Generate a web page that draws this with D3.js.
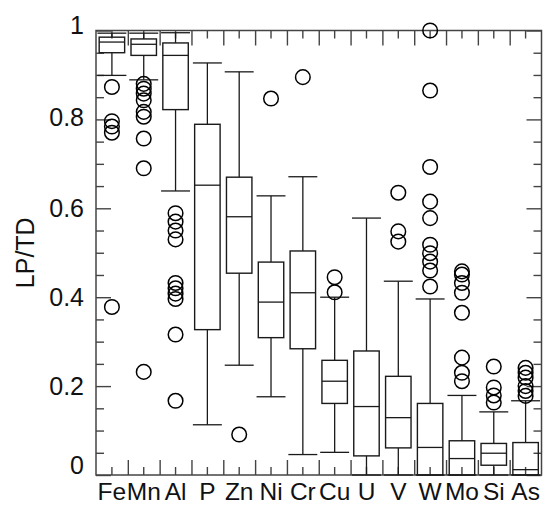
<!DOCTYPE html>
<html>
<head>
<meta charset="utf-8">
<script src="https://cdn.jsdelivr.net/npm/d3@7"></script>
<style>
  body { margin: 0; background: #fff; }
  svg text { font-family: "Liberation Sans", Arial, Helvetica, sans-serif; fill: #111; }
</style>
</head>
<body>
<script>
const width = 543;
const height = 505;

// box plot stats (LP/TD ratio)
const categories = ["Fe", "Mn", "Al", "P", "Zn", "Ni", "Cr", "Cu", "U", "V", "W", "Mo", "Si", "As"];
const whiskerLow  = [0.899, 0.889, 0.639, 0.113, 0.247, 0.176, 0.046, 0.051, 0.0, 0.0, 0.0, 0.0, 0.0, 0.0];
const q1          = [0.950, 0.944, 0.822, 0.327, 0.454, 0.309, 0.284, 0.161, 0.043, 0.061, 0.0, 0.0, 0.022, 0.0];
const median      = [0.974, 0.969, 0.944, 0.652, 0.581, 0.389, 0.410, 0.211, 0.154, 0.129, 0.062, 0.037, 0.049, 0.012];
const q3          = [0.985, 0.981, 0.972, 0.789, 0.670, 0.479, 0.504, 0.258, 0.279, 0.222, 0.161, 0.077, 0.071, 0.073];
const whiskerHigh = [0.994, 0.994, 0.995, 0.927, 0.907, 0.628, 0.671, 0.400, 0.578, 0.436, 0.396, 0.179, 0.142, 0.167];
const outliers = [
  [0.873, 0.796, 0.784, 0.770, 0.378],
  [0.880, 0.869, 0.858, 0.843, 0.817, 0.806, 0.757, 0.690, 0.232],
  [0.589, 0.570, 0.550, 0.530, 0.432, 0.420, 0.408, 0.396, 0.316, 0.167],
  [],
  [0.091],
  [0.847],
  [0.895],
  [0.445, 0.411],
  [],
  [0.635, 0.548, 0.525],
  [1.0, 0.865, 0.693, 0.615, 0.578, 0.518, 0.499, 0.480, 0.460, 0.424],
  [0.458, 0.451, 0.432, 0.410, 0.365, 0.264, 0.230, 0.211],
  [0.244, 0.197, 0.179, 0.163],
  [0.241, 0.230, 0.219, 0.200, 0.189, 0.178]
];
const yTicks = [0, 0.2, 0.4, 0.6, 0.8, 1];
const yTickLabels = ["0", "0.2", "0.4", "0.6", "0.8", "1"];

const plotLeft = 96, plotRight = 541.5, plotTop = 30.5, plotBottom = 475;

const svg = d3.select("body").append("svg")
  .attr("width", width)
  .attr("height", height);

const x = d3.scaleBand().domain(categories).range([plotLeft, plotRight]).padding(0);
const xEdge = d3.scaleLinear().domain([0, categories.length]).range([plotLeft, plotRight]);
const y = d3.scaleLinear().domain([0, 1]).range([plotBottom, plotTop]);

const axisColor = "#444";
const minorTicks = d3.range(0, 1.0001, 0.05).filter(v => Math.abs(v * 5 - Math.round(v * 5)) > 1e-6);

function styleAxis(g) {
  g.select(".domain").remove();
  g.selectAll(".tick line").attr("stroke", axisColor).attr("stroke-width", 1.4);
}

// left axis: labelled major ticks + minor ticks, all pointing inward
svg.append("g")
  .attr("transform", `translate(${plotLeft},0)`)
  .call(d3.axisLeft(y).tickValues(yTicks).tickSizeInner(-15).tickSizeOuter(0).tickPadding(12)
    .tickFormat((d, i) => yTickLabels[i]))
  .call(styleAxis)
  .call(g => g.selectAll("text")
    .attr("font-size", 25)
    .attr("dy", d => d === 0 ? "-0.05em" : d === 1 ? "0.12em" : d === 0.8 ? "0.24em" : "0.32em"));

svg.append("g")
  .attr("transform", `translate(${plotLeft},0)`)
  .call(d3.axisLeft(y).tickValues(minorTicks).tickSizeInner(-8).tickSizeOuter(0).tickFormat(""))
  .call(styleAxis);

// right axis mirror
svg.append("g")
  .attr("transform", `translate(${plotRight},0)`)
  .call(d3.axisRight(y).tickValues(yTicks).tickSizeInner(-15).tickSizeOuter(0).tickFormat(""))
  .call(styleAxis);
svg.append("g")
  .attr("transform", `translate(${plotRight},0)`)
  .call(d3.axisRight(y).tickValues(minorTicks).tickSizeInner(-8).tickSizeOuter(0).tickFormat(""))
  .call(styleAxis);

// bottom axis: short ticks at category centres with labels, long ticks at boundaries
svg.append("g")
  .attr("transform", `translate(0,${plotBottom})`)
  .call(d3.axisBottom(x).tickSizeInner(-8).tickSizeOuter(0))
  .call(styleAxis)
  .call(g => g.selectAll("text").attr("font-size", 24.5).attr("y", 25).attr("dy", 0));
svg.append("g")
  .attr("transform", `translate(0,${plotBottom})`)
  .call(d3.axisBottom(xEdge).tickValues(d3.range(1, categories.length)).tickSizeInner(-15).tickSizeOuter(0).tickFormat(""))
  .call(styleAxis);

// top axis mirror
svg.append("g")
  .attr("transform", `translate(0,${plotTop})`)
  .call(d3.axisTop(x).tickSizeInner(-8).tickSizeOuter(0).tickFormat(""))
  .call(styleAxis);
svg.append("g")
  .attr("transform", `translate(0,${plotTop})`)
  .call(d3.axisTop(xEdge).tickValues(d3.range(1, categories.length)).tickSizeInner(-15).tickSizeOuter(0).tickFormat(""))
  .call(styleAxis);

// frame
svg.append("rect")
  .attr("x", plotLeft)
  .attr("y", plotTop)
  .attr("width", plotRight - plotLeft)
  .attr("height", plotBottom - plotTop)
  .attr("fill", "none")
  .attr("stroke", axisColor)
  .attr("stroke-width", 1.5);

// y label
svg.append("text")
  .attr("transform", `translate(34,${(plotTop + plotBottom) / 2}) rotate(-90)`)
  .attr("text-anchor", "middle")
  .attr("font-size", 25)
  .text("LP/TD");

// boxes
const boxW = x.bandwidth() * 0.8;
const capW = x.bandwidth() * 0.91;
const lineColor = "#1a1a1a";

const groups = svg.selectAll("g.box")
  .data(categories)
  .enter()
  .append("g")
  .attr("class", "box")
  .attr("transform", d => `translate(${x(d) + x.bandwidth() / 2},0)`);

groups.append("line")
  .attr("x1", 0).attr("x2", 0)
  .attr("y1", (d, i) => y(whiskerHigh[i]))
  .attr("y2", (d, i) => y(q3[i]))
  .attr("stroke", lineColor).attr("stroke-width", 1.3);
groups.append("line")
  .attr("x1", 0).attr("x2", 0)
  .attr("y1", (d, i) => y(q1[i]))
  .attr("y2", (d, i) => y(whiskerLow[i]))
  .attr("stroke", lineColor).attr("stroke-width", 1.3);
groups.append("line")
  .attr("x1", -capW / 2).attr("x2", capW / 2)
  .attr("y1", (d, i) => y(whiskerHigh[i]))
  .attr("y2", (d, i) => y(whiskerHigh[i]))
  .attr("stroke", lineColor).attr("stroke-width", 1.3);
groups.append("line")
  .attr("x1", -capW / 2).attr("x2", capW / 2)
  .attr("y1", (d, i) => y(whiskerLow[i]))
  .attr("y2", (d, i) => y(whiskerLow[i]))
  .attr("stroke", lineColor).attr("stroke-width", 1.3);
groups.append("rect")
  .attr("x", -boxW / 2)
  .attr("width", boxW)
  .attr("y", (d, i) => y(q3[i]))
  .attr("height", (d, i) => y(q1[i]) - y(q3[i]))
  .attr("fill", "none")
  .attr("stroke", lineColor).attr("stroke-width", 1.4);
groups.append("line")
  .attr("x1", -boxW / 2).attr("x2", boxW / 2)
  .attr("y1", (d, i) => y(median[i]))
  .attr("y2", (d, i) => y(median[i]))
  .attr("stroke", lineColor).attr("stroke-width", 1.3);

groups.selectAll("circle")
  .data((d, i) => outliers[i])
  .enter()
  .append("circle")
  .attr("cx", 0)
  .attr("cy", v => y(v))
  .attr("r", 7.3)
  .attr("fill", "none")
  .attr("stroke", "#000")
  .attr("stroke-width", 1.5);
</script>
</body>
</html>
